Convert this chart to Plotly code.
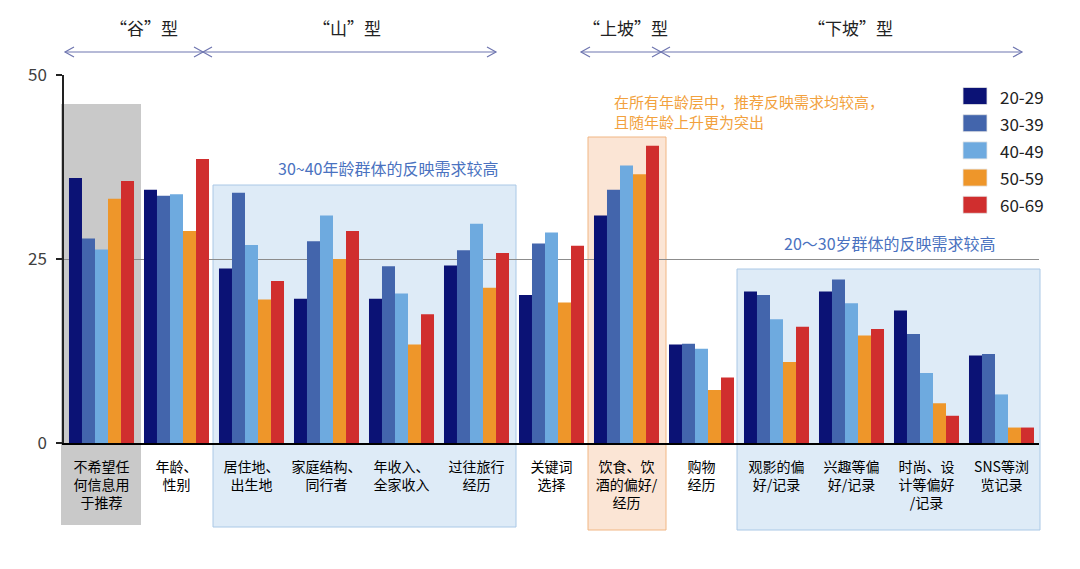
import plotly.graph_objects as go

categories = [
    "不希望任何信息用于推荐", "年龄、性别", "居住地、出生地", "家庭结构、同行者",
    "年收入、全家收入", "过往旅行经历", "关键词选择", "饮食、饮酒的偏好/经历",
    "购物经历", "观影的偏好/记录", "兴趣等偏好/记录", "时尚、设计等偏好/记录",
    "SNS等浏览记录",
]
tick_labels = [
    "不希望任<br>何信息用<br>于推荐", "年龄、<br>性别", "居住地、<br>出生地",
    "家庭结构、<br>同行者", "年收入、<br>全家收入", "过往旅行<br>经历",
    "关键词<br>选择", "饮食、饮<br>酒的偏好/<br>经历", "购物<br>经历",
    "观影的偏<br>好/记录", "兴趣等偏<br>好/记录", "时尚、设<br>计等偏好<br>/记录",
    "SNS等浏<br>览记录",
]
age_groups = ["20-29", "30-39", "40-49", "50-59", "60-69"]
v_20_29 = [36.0, 34.4, 23.7, 19.6, 19.6, 24.1, 20.1, 30.9, 13.4, 20.6, 20.6, 18.0, 11.9]
v_30_39 = [27.8, 33.6, 34.0, 27.4, 24.0, 26.2, 27.1, 34.4, 13.5, 20.1, 22.2, 14.8, 12.1]
v_40_49 = [26.3, 33.8, 26.9, 30.9, 20.3, 29.8, 28.6, 37.7, 12.8, 16.8, 19.0, 9.5, 6.6]
v_50_59 = [33.2, 28.8, 19.5, 25.0, 13.4, 21.1, 19.1, 36.5, 7.2, 11.0, 14.6, 5.4, 2.1]
v_60_69 = [35.6, 38.6, 22.0, 28.8, 17.5, 25.8, 26.8, 40.4, 8.9, 15.8, 15.5, 3.7, 2.1]
series = [v_20_29, v_30_39, v_40_49, v_50_59, v_60_69]
colors = ["#0b1275", "#4365ac", "#6eaadf", "#ee962a", "#d02e2e"]

FONT = "Noto Sans CJK SC"
W, H = 1080, 569
L, R, T, B = 64, 41, 75, 126
PW, PH = W - L - R, H - T - B


def X(px):
    return (px - L) / PW


def Y(py):
    return (H - B - py) / PH


fig = go.Figure()
for name, vals, col in zip(age_groups, series, colors):
    fig.add_trace(go.Bar(
        x=categories, y=vals, name=name, showlegend=False,
        marker=dict(color=col, line=dict(width=0)),
    ))

shapes = []
# highlight boxes
shapes.append(dict(type="rect", xref="paper", yref="paper", layer="below",
                   x0=X(61), x1=X(141), y0=Y(525), y1=Y(104),
                   fillcolor="#c9c9c9", line=dict(width=0)))
shapes.append(dict(type="rect", xref="paper", yref="paper", layer="below",
                   x0=X(213), x1=X(516), y0=Y(527), y1=Y(185),
                   fillcolor="#deebf7", line=dict(color="#aac8e6", width=1)))
shapes.append(dict(type="rect", xref="paper", yref="paper", layer="below",
                   x0=X(588), x1=X(666), y0=Y(530), y1=Y(137),
                   fillcolor="#fbe5d5", line=dict(color="#f1b683", width=1)))
shapes.append(dict(type="rect", xref="paper", yref="paper", layer="below",
                   x0=X(737), x1=X(1040), y0=Y(530), y1=Y(269),
                   fillcolor="#deebf7", line=dict(color="#aac8e6", width=1)))

# double arrows at the top
arrow_col = "#6f76b0"
ay = 52
for x1, x2 in [(65, 203), (203, 496), (581, 661), (661, 1022)]:
    shapes.append(dict(type="line", xref="paper", yref="paper",
                       x0=X(x1), x1=X(x2), y0=Y(ay), y1=Y(ay),
                       line=dict(color=arrow_col, width=1.2)))
    path = (f"M{X(x1 + 9)},{Y(ay - 5)} L{X(x1)},{Y(ay)} L{X(x1 + 9)},{Y(ay + 5)} "
            f"M{X(x2 - 9)},{Y(ay - 5)} L{X(x2)},{Y(ay)} L{X(x2 - 9)},{Y(ay + 5)}")
    shapes.append(dict(type="path", xref="paper", yref="paper", path=path,
                       line=dict(color=arrow_col, width=1.2)))

annotations = []
for txt, cx in [("“谷”型", 144), ("“山”型", 347), ("“上坡”型", 625), ("“下坡”型", 850)]:
    annotations.append(dict(text=txt, xref="paper", yref="paper", x=X(cx), y=Y(27),
                            showarrow=False, xanchor="center", yanchor="middle",
                            font=dict(family=FONT, size=17, color="#222222")))
annotations.append(dict(text="30~40年龄群体的反映需求较高", xref="paper", yref="paper",
                        x=X(388), y=Y(168), showarrow=False, xanchor="center", yanchor="middle",
                        font=dict(family=FONT, size=16, color="#4a72c0")))
annotations.append(dict(text="20～30岁群体的反映需求较高", xref="paper", yref="paper",
                        x=X(890), y=Y(243), showarrow=False, xanchor="center", yanchor="middle",
                        font=dict(family=FONT, size=16, color="#4a72c0")))
annotations.append(dict(text="在所有年龄层中，推荐反映需求均较高，<br>且随年龄上升更为突出",
                        xref="paper", yref="paper", x=X(612), y=Y(111.5), showarrow=False,
                        xanchor="left", yanchor="middle", align="left",
                        font=dict(family=FONT, size=15, color="#f2a13d")))

# legend (drawn as swatches + labels)
leg_x0, leg_y0, leg_dy = 963, 96, 27.2
for i, (name, col) in enumerate(zip(age_groups, colors)):
    cy = leg_y0 + i * leg_dy
    shapes.append(dict(type="rect", xref="paper", yref="paper",
                       x0=X(leg_x0), x1=X(leg_x0 + 24), y0=Y(cy + 8.5), y1=Y(cy - 8.5),
                       fillcolor=col, line=dict(color="#e6e6e6", width=0.8)))
    annotations.append(dict(text=name, xref="paper", yref="paper", x=X(998), y=Y(cy),
                            showarrow=False, xanchor="left", yanchor="middle",
                            font=dict(family=FONT, size=17, color="#222222")))

fig.update_layout(
    width=W, height=H,
    margin=dict(l=L, r=R, t=T, b=B, pad=0),
    barmode="group", bargap=0.133, bargroupgap=0,
    paper_bgcolor="white", plot_bgcolor="rgba(0,0,0,0)",
    font=dict(family=FONT, size=14, color="#000000"),
    shapes=shapes, annotations=annotations,
    showlegend=False,
)
fig.update_xaxes(
    type="category", range=[-0.5, 12.5],
    tickvals=categories, ticktext=tick_labels,
    showline=True, linecolor="#000000", linewidth=2,
    ticks="", showgrid=False, zeroline=False, ticklabelstandoff=10,
    tickfont=dict(family=FONT, size=14, color="#000000"),
)
fig.update_yaxes(
    range=[0, 50], tickvals=[0, 25, 50],
    showline=True, linecolor="#222222", linewidth=1.5,
    ticks="outside", ticklen=6, tickcolor="#222222", tickwidth=1.5,
    showgrid=True, gridcolor="#8c8c8c", gridwidth=1, zeroline=False,
    ticklabelstandoff=6,
    tickfont=dict(family=FONT, size=17, color="#404040"),
)

fig.write_html("out.html")
